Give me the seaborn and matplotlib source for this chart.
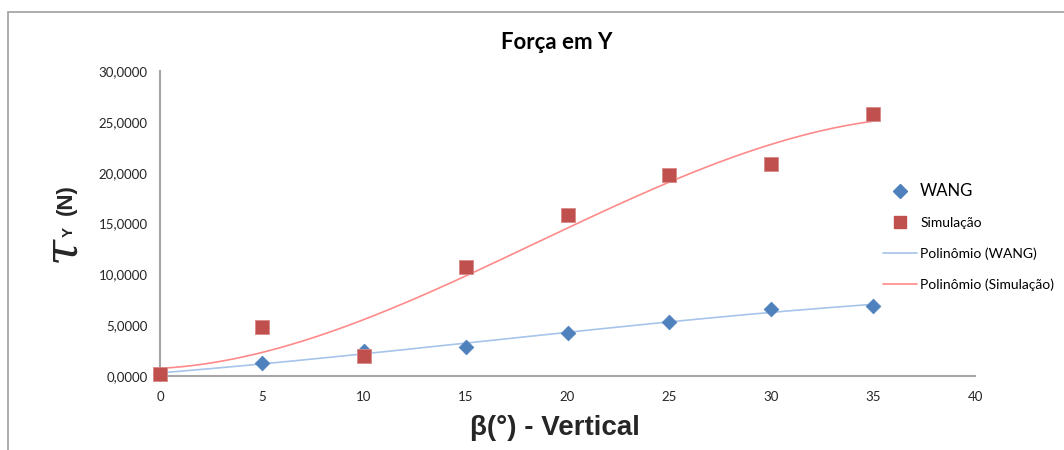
import numpy as np
import pandas as pd
import seaborn as sns
import matplotlib.pyplot as plt
from matplotlib.lines import Line2D
from matplotlib.patches import Rectangle
from matplotlib.ticker import FuncFormatter, MultipleLocator

# data
beta = [0, 5, 10, 15, 20, 25, 30, 35]
wang = [0.2, 1.3, 2.5, 2.85, 4.2, 5.35, 6.55, 6.9]
simulacao = [0.2, 4.85, 1.95, 10.7, 15.8, 19.8, 20.85, 25.8]
poly_order = 3

blue_pt = "#4F81BD"
red_pt = "#C0504D"
blue_ln = "#A7C4EA"
red_ln = "#FF8A8A"
txt = "#262626"
spine = "#A6A6A6"

sns.set_theme(style="white")
plt.rcParams["font.family"] = ["Lato", "DejaVu Sans"]

df = pd.DataFrame({"beta": beta, "WANG": wang, "Simulação": simulacao})

# polynomial trend lines (like Excel's "Polinômio")
xs = np.linspace(0, 35, 200)
fit_w = np.polyval(np.polyfit(beta, wang, poly_order), xs)
fit_s = np.polyval(np.polyfit(beta, simulacao, poly_order), xs)
trend = pd.DataFrame({"x": xs, "w": fit_w, "s": fit_s})

fig = plt.figure(figsize=(10.64, 4.5), dpi=100)
ax = fig.add_axes([0.1504, 0.1644, 0.766, 0.6778])

# chart frame
fig.patches.append(Rectangle((0.0075, -0.05), 1.1, 1.0233, transform=fig.transFigure,
                             fill=False, edgecolor="#A0A0A0", linewidth=1.2))

sns.lineplot(data=trend, x="x", y="w", ax=ax, color=blue_ln, linewidth=1.2, zorder=2)
sns.lineplot(data=trend, x="x", y="s", ax=ax, color=red_ln, linewidth=1.2, zorder=2)
sns.scatterplot(data=df, x="beta", y="WANG", ax=ax, marker="D", s=55,
                color=blue_pt, edgecolor=blue_pt, zorder=3)
sns.scatterplot(data=df, x="beta", y="Simulação", ax=ax, marker="s", s=90,
                color=red_pt, edgecolor="#D88A88", linewidth=0.6, zorder=3)

ax.set_xlim(0, 40)
ax.set_ylim(0, 30)
ax.xaxis.set_major_locator(MultipleLocator(5))
ax.yaxis.set_major_locator(MultipleLocator(5))
ax.yaxis.set_major_formatter(FuncFormatter(lambda v, p: f"{v:.4f}".replace(".", ",")))
ax.set_xlabel("")
ax.set_ylabel("")
for s in ["top", "right"]:
    ax.spines[s].set_visible(False)
for s in ["left", "bottom"]:
    ax.spines[s].set_color(spine)
    ax.spines[s].set_linewidth(1.5)
ax.tick_params(axis="both", which="major", direction="out", length=5, width=1.2,
               color=spine, labelsize=9.5, labelcolor=txt, pad=4)
ax.tick_params(axis="x", pad=6)
ax.margins(0)
for c in ax.collections:
    c.set_clip_on(False)

# title
fig.text(0.523, 0.905, "Força em Y", ha="center", va="center", fontsize=16,
         fontweight="bold", color="black")

fig.text(0.522, 0.048, "β(°) - Vertical", ha="center", va="center",
         fontsize=20, fontweight="bold", family=["Liberation Sans", "DejaVu Sans"])
# y label: tau with subscript Y, then (N)
fig.text(0.058, 0.446, "τ", rotation=90, ha="center", va="center",
         fontsize=34, style="italic", family=["DejaVu Serif"])
fig.text(0.065, 0.484, "Y", rotation=90, ha="center", va="center",
         fontsize=11, fontweight="bold", family=["Liberation Sans", "DejaVu Sans"])
fig.text(0.062, 0.556, "(N)", rotation=90, ha="center", va="center",
         fontsize=16, fontweight="bold", family=["Liberation Sans", "DejaVu Sans"])

handles = [
    Line2D([], [], linestyle="none", marker="D", markersize=7, color=blue_pt),
    Line2D([], [], linestyle="none", marker="s", markersize=9, color=red_pt),
    Line2D([], [], color=blue_ln, linewidth=1.2),
    Line2D([], [], color=red_ln, linewidth=1.2),
]
labels = ["WANG", "Simulação", "Polinômio (WANG)", "Polinômio (Simulação)"]
leg = fig.legend(handles, labels, loc="upper left", bbox_to_anchor=(0.825, 0.605),
                 frameon=False, fontsize=10, handlelength=2.4, handletextpad=0.25,
                 labelspacing=1.3, borderaxespad=0)
leg.get_texts()[0].set_fontsize(12)
for t in leg.get_texts():
    t.set_color("black")

fig.savefig("out.png", dpi=100)
